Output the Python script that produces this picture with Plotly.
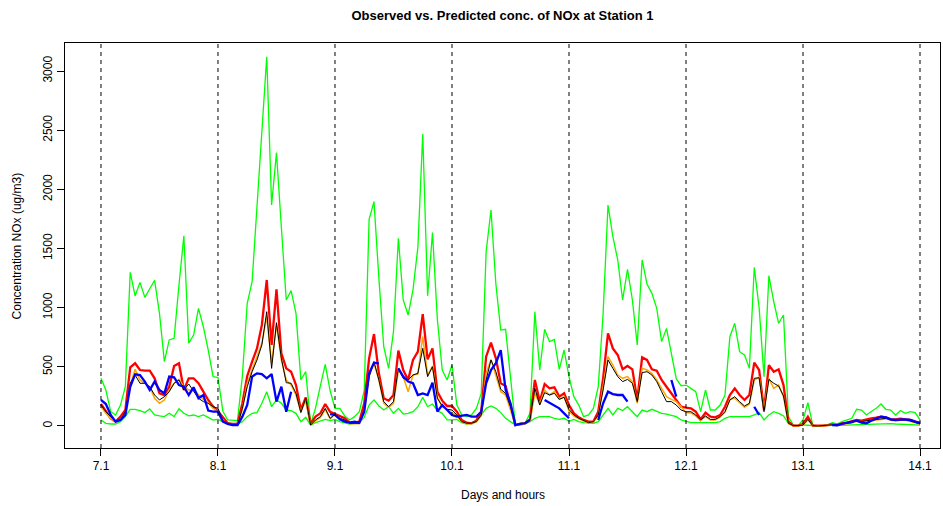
import plotly.graph_objects as go

N = None
tick_labels = ["7.1", "8.1", "9.1", "10.1", "11.1", "12.1", "13.1", "14.1"]
hours_per_day = 24

green_hi = [
    403, 304, 121, 93, 177, 332, 1299, 1099, 1214, 1087, 1160, 1231, 952, 544, 727, 741, 1192, 1608, 699, 769, 994, 839, 642, 417,
    410, 125, 51, 45, 45, 420, 1037, 1220, 1850, 2480, 3121, 1868, 2310, 1680, 1065, 1144, 952, 389, 459, 17, 150, 340, 521, 300,
    150, 149, 85, 51, 79, 121, 300, 1747, 1896, 1250, 670, 487, 800, 1586, 1065, 938, 1150, 1510, 2468, 1100, 1634, 900, 473, 389,
    515, 177, 93, 79, 93, 149, 276, 1473, 1825, 1200, 811, 817, 417, 8, 23, 23, 107, 966, 473, 817, 713, 732, 479, 642,
    417, 248, 177, 79, 93, 149, 332, 950, 1868, 1600, 1403, 1065, 1324, 1065, 685, 1403, 1200, 1121, 994, 713, 825, 600, 400, 340,
    346, 318, 290, 121, 304, 135, 135, 177, 262, 755, 868, 628, 600, 487, 1340, 1000, 417, 1270, 1050, 868, 938, 79, 8, 3,
    51, 197, 8, 0, 3, 8, 28, 17, 37, 51, 65, 141, 135, 93, 121, 149, 186, 141, 135, 93, 130, 107, 121, 113, 51,
]

green_lo = [
    51, 23, 17, 17, 37, 79, 141, 141, 130, 113, 144, 93, 85, 79, 107, 79, 146, 107, 85, 93, 79, 93, 73, 51,
    56, 37, 28, 17, 17, 37, 79, 107, 113, 192, 290, 163, 220, 192, 135, 130, 107, 37, 73, 8, 28, 45, 56, 45,
    56, 37, 28, 17, 23, 28, 73, 177, 220, 169, 135, 163, 107, 149, 101, 107, 121, 163, 242, 163, 186, 130, 107, 51,
    51, 56, 28, 17, 23, 51, 93, 149, 169, 149, 113, 65, 37, 8, 8, 17, 37, 65, 79, 79, 79, 65, 56, 65,
    40, 56, 37, 28, 23, 23, 37, 93, 149, 93, 149, 130, 163, 121, 79, 135, 121, 141, 121, 107, 101, 93, 79, 51,
    37, 28, 28, 28, 28, 23, 28, 37, 65, 79, 79, 73, 79, 79, 93, 113, 51, 93, 121, 107, 85, 23, 3, 3,
    10, 5, 3, 0, 3, 3, 5, 5, 8, 8, 10, 12, 14, 15, 15, 17, 20, 20, 20, 17, 17, 15, 12, 10, 8,
]

red = [
    186, 121, 65, 37, 79, 135, 496, 530, 473, 468, 468, 403, 276, 262, 332, 507, 530, 304, 403, 403, 361, 290, 220, 163,
    125, 75, 23, 17, 17, 192, 423, 544, 656, 854, 1234, 685, 1155, 614, 487, 459, 346, 135, 242, 17, 79, 107, 186, 120,
    100, 79, 65, 28, 28, 37, 192, 572, 777, 445, 234, 214, 262, 637, 473, 389, 558, 628, 946, 563, 656, 290, 214, 169,
    169, 121, 51, 28, 23, 45, 121, 586, 704, 572, 361, 338, 177, 8, 17, 23, 56, 389, 206, 355, 318, 327, 248, 276,
    177, 107, 73, 51, 37, 37, 121, 403, 783, 656, 600, 479, 507, 479, 220, 580, 558, 479, 468, 389, 332, 276, 220, 163,
    155, 149, 121, 56, 113, 79, 73, 93, 163, 262, 318, 262, 220, 262, 535, 473, 135, 515, 459, 479, 346, 37, 3, 3,
    17, 79, 3, 0, 3, 8, 14, 8, 23, 28, 37, 51, 45, 56, 65, 70, 79, 73, 56, 56, 62, 56, 51, 37, 28,
]

observed = [
    177, 121, 79, 37, 51, 121, 361, 431, 361, 361, 332, 262, 220, 248, 290, 361, 389, 304, 355, 290, 234, 206, 192, 163,
    150, 45, 17, 8, 8, 149, 332, 459, 558, 685, 966, 487, 873, 572, 366, 361, 276, 113, 234, 8, 51, 79, 149, 65,
    100, 65, 51, 23, 23, 23, 135, 417, 544, 389, 206, 163, 206, 487, 403, 389, 431, 445, 656, 417, 501, 234, 169, 141,
    135, 93, 37, 23, 23, 37, 93, 389, 558, 459, 310, 276, 163, 8, 17, 23, 51, 318, 177, 282, 262, 276, 225, 242,
    140, 93, 65, 45, 28, 37, 93, 304, 558, 487, 417, 375, 394, 361, 206, 451, 459, 431, 375, 290, 206, 206, 177, 135,
    120, 121, 93, 51, 85, 56, 56, 79, 121, 220, 248, 206, 169, 192, 403, 408, 121, 394, 361, 338, 254, 23, 3, 3,
    8, 56, 3, 0, 3, 5, 10, 8, 17, 23, 28, 45, 37, 45, 51, 56, 65, 65, 51, 45, 51, 51, 42, 28, 17,
]

orange = [
    163, 107, 65, 37, 51, 107, 346, 479, 389, 361, 332, 234, 192, 220, 304, 361, 394, 332, 304, 304, 262, 225, 197, 149,
    121, 40, 15, 8, 8, 140, 361, 479, 580, 699, 924, 530, 854, 558, 389, 346, 262, 121, 220, 8, 45, 70, 140, 60,
    95, 60, 45, 20, 20, 20, 121, 417, 530, 389, 192, 158, 192, 473, 417, 290, 431, 439, 755, 431, 507, 242, 163, 135,
    107, 85, 35, 20, 20, 35, 85, 445, 563, 431, 290, 262, 141, 8, 15, 20, 45, 276, 186, 304, 262, 290, 225, 248,
    125, 85, 60, 40, 25, 35, 85, 332, 586, 515, 431, 403, 417, 375, 192, 487, 473, 445, 389, 318, 248, 225, 206, 163,
    113, 110, 85, 45, 80, 50, 50, 75, 115, 225, 234, 197, 158, 186, 389, 411, 135, 403, 318, 346, 248, 20, 3, 3,
    8, 50, 3, 0, 3, 5, 8, 8, 15, 20, 25, 40, 35, 40, 48, 52, 60, 60, 48, 42, 48, 48, 40, 25, 15,
]

blue = [
    220, 186, 93, 37, 51, 93, 332, 437, 431, 375, 304, 375, 304, 276, 417, 411, 346, 332, 262, 327, 234, 262, 130, 121,
    121, 37, 17, 8, 8, 79, 177, 417, 445, 439, 403, 439, 206, 332, 121, 290, N, N, N, N, N, N, N, 100,
    93, 56, 37, 28, 37, 28, 121, 445, 535, 530, N, N, N, 487, 417, 375, 361, 262, 276, 262, 366, 121, 177, 135,
    93, 79, 85, 93, 79, 79, 121, 361, 473, 530, 642, 304, 192, 8, 17, 23, 51, N, N, 220, 197, 177, 149, 107,
    65, N, N, N, N, N, 51, 192, 290, 270, 262, 262, 206, N, N, N, N, N, N, N, N, 389, 248, N,
    N, N, N, N, N, N, N, N, N, N, N, N, N, N, 163, 93, N, N, N, N, N, N, N, N,
    N, N, N, N, N, N, 8, 5, 17, 28, 37, 45, 28, 23, 45, 65, 79, 73, 56, 51, 56, 56, 51, 37, 23,
]

hours = list(range(len(red)))
tick_vals = [i * hours_per_day for i in range(len(tick_labels))]

fig = go.Figure()

series = [
    (green_hi, "#00FF00", 1.3),
    (green_lo, "#00FF00", 1.3),
    (red, "#FF0000", 2.3),
    (orange, "#FFA500", 1.5),
    (observed, "#000000", 1.0),
    (blue, "#0000FF", 2.3),
]
for ys, col, w in series:
    fig.add_trace(go.Scatter(x=hours, y=ys, mode="lines",
                             line=dict(color=col, width=w),
                             connectgaps=False, showlegend=False,
                             hoverinfo="skip"))

for tv in tick_vals:
    fig.add_shape(type="line", x0=tv, x1=tv, y0=0, y1=1, xref="x", yref="paper",
                  line=dict(color="black", width=1, dash="4px,4px"))

font_family = "Liberation Sans, Arial, sans-serif"
axis_common = dict(showgrid=False, zeroline=False, showline=True, mirror=True,
                   linecolor="black", linewidth=1, ticks="outside", ticklen=7,
                   tickcolor="black", tickwidth=1,
                   tickfont=dict(family=font_family, size=12, color="black"))

fig.update_layout(
    width=943, height=506,
    margin=dict(l=65, r=3, t=43, b=58),
    paper_bgcolor="white", plot_bgcolor="white",
    font=dict(family=font_family, color="black"),
    title=dict(text="<b>Observed vs. Predicted conc. of NOx at Station 1</b>",
               x=0.5, xref="paper", y=1 - 15 / 506, yref="container",
               xanchor="center", yanchor="middle",
               font=dict(family=font_family, size=13, color="black")),
    xaxis=dict(range=[-7.38, 172.1], tickvals=tick_vals, ticktext=tick_labels,
               **axis_common),
    yaxis=dict(range=[-186, 3237], tickvals=[0, 500, 1000, 1500, 2000, 2500, 3000],
               tickangle=-90, **axis_common),
    annotations=[
        dict(text="Days and hours", x=0.5, xref="paper", y=-0.116, yref="paper",
             showarrow=False, xanchor="center", yanchor="middle",
             font=dict(family=font_family, size=12, color="black")),
        dict(text="Concentration NOx (ug/m3)", x=-0.0549, xref="paper", y=0.5,
             yref="paper", showarrow=False, textangle=-90, xanchor="center",
             yanchor="middle", font=dict(family=font_family, size=12, color="black")),
    ],
)

fig.write_html("out.html")
